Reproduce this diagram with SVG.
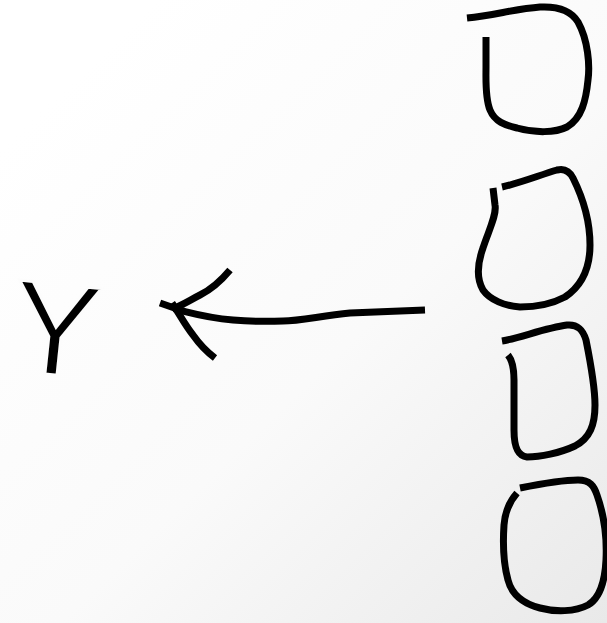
<svg xmlns="http://www.w3.org/2000/svg" width="607" height="623" viewBox="0 0 607 623">
  <defs>
    <linearGradient id="bg" x1="0.15" y1="0.1" x2="1" y2="1">
      <stop offset="0" stop-color="#ffffff"/>
      <stop offset="0.5" stop-color="#fafafa"/>
      <stop offset="1" stop-color="#e9e9e9"/>
    </linearGradient>
    <style>
      .ink { fill: none; stroke: #000; stroke-width: 7; stroke-linecap: butt; stroke-linejoin: round; }
      .lbl { font-family: "Liberation Sans", Arial, sans-serif; font-size: 132px; fill: #000; stroke: #fcfcfc; stroke-width: 3; }
    </style>
  </defs>
  <rect width="607" height="623" fill="url(#bg)"/>

  <g id="node-Y">
    <text class="lbl" x="12" y="375" transform="rotate(6 58 328)">Y</text>
  </g>

  <g id="box1">
    <path class="ink" d="M467,18 C495,15 515,9 540,7 C560,6 572,12 578,22 C588,40 590,65 588,80 C586,100 582,118 567,127 C555,133 535,133 517,128 C505,125 495,122 490,110 C485,98 486,80 486,67 L486,37"/>
  </g>

  <g id="box2">
    <path class="ink" d="M502,187 C520,183 540,175 557,170 C565,168 570,172 573,178 C583,198 590,222 590,245 C590,268 583,285 565,297 C550,305 535,307 520,307 C505,306 490,300 483,290 C476,278 478,262 483,248 C488,232 497,215 495,205 L493,188"/>
  </g>

  <g id="box3">
    <path class="ink" d="M502,341 C520,338 545,328 567,325 C578,324 583,330 586,340 C590,360 595,385 595,405 C595,425 590,438 575,446 C560,453 540,457 527,457 C518,456 514,448 514,430 C514,410 514,390 514,380 C514,368 512,360 508,355"/>
  </g>

  <g id="box4">
    <path class="ink" d="M520,488 C540,484 560,480 578,480 C590,480 594,486 597,495 C604,515 607,540 606,560 C605,580 600,598 588,605 C575,612 555,612 540,608 C525,604 512,596 508,580 C503,562 503,540 504,525 C505,512 509,502 517,493"/>
  </g>

  <g id="connectors">
    <path class="ink" d="M425,310 C395,311 370,312 350,313 C320,316 300,321 283,321 C260,322 245,321 233,320 C210,318 195,314 183,311 L160,303"/>
    <path class="ink" d="M230,270 C220,282 210,290 200,295 C190,300 183,305 172,309"/>
    <path class="ink" d="M172,303 C180,315 185,325 193,335 C200,345 207,352 215,358"/>
  </g>
</svg>
